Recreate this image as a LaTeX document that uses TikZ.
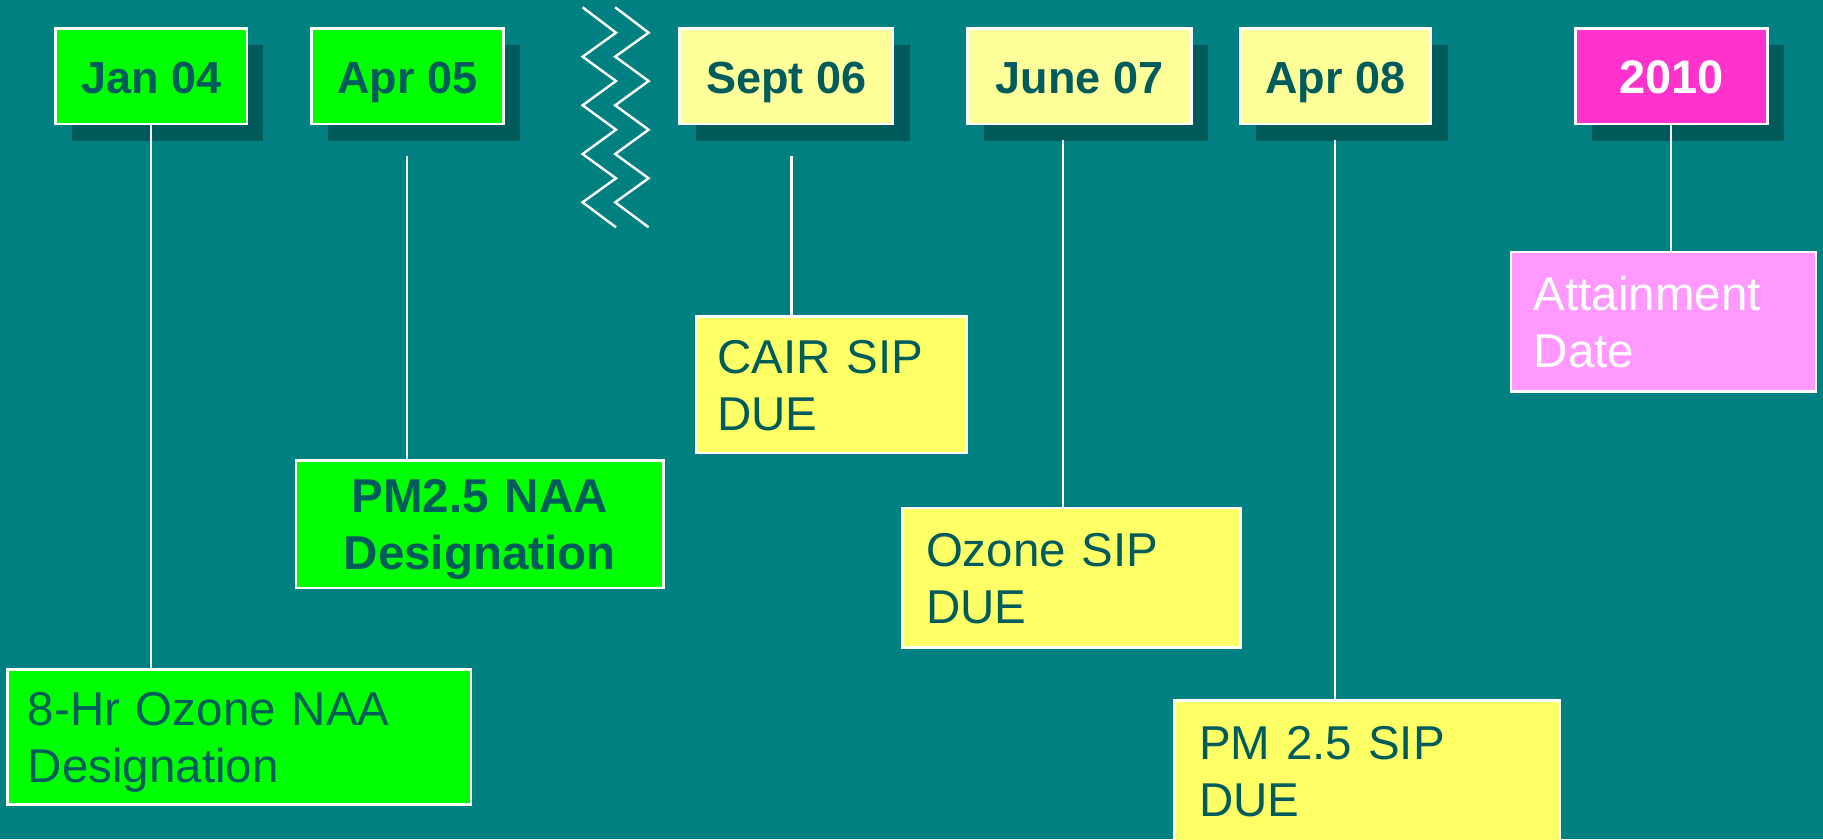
\documentclass[tikz,border=0pt]{standalone}
\usepackage{fontspec}
\setmainfont{Liberation Sans}
\usetikzlibrary{shadows}
\definecolor{bg}{HTML}{008080}
\definecolor{ink}{HTML}{005C5C}
\definecolor{shade}{HTML}{005A5A}
\definecolor{grn}{HTML}{00FF00}
\definecolor{lyel}{HTML}{FFFF99}
\definecolor{yel}{HTML}{FFFF66}
\definecolor{mag}{HTML}{FF33CC}
\definecolor{pnk}{HTML}{FF99FF}
\begin{document}
\begin{tikzpicture}[x=1pt,y=-1pt,
  box/.style={draw=white, line width=2.5pt, inner sep=0pt, text=ink},
  datebox/.style={box, minimum height=95.5pt, text height=34pt, text depth=0pt,
    font=\fontsize{45}{54}\selectfont\bfseries,
    drop shadow={shadow xshift=16.5pt, shadow yshift=-16.5pt, fill=shade, opacity=1, draw=none}},
  eventbox/.style={box, align=left, text height=34pt, text depth=57pt,
    font=\fontsize{47.5}{57}\selectfont},
  thinline/.style={draw=white!88!gray, line width=1.7pt},
  wideline/.style={draw=white, line width=2.7pt},
  zig/.style={draw=white, line width=2.4pt, line join=miter}
]
\useasboundingbox (0,0) rectangle (1823,839);
\fill[bg] (0,0) rectangle (1823,839);

% date boxes
\node[datebox, fill=grn, minimum width=191.3pt] (jan) at (151.3,76.3) {Jan 04};
\node[datebox, fill=grn, minimum width=191.7pt] (aprA) at (407.4,76.3) {Apr 05};
\node[datebox, fill=lyel, minimum width=213.6pt] (sept) at (786.35,76.3) {Sept 06};
\node[datebox, fill=lyel, minimum width=223.8pt] (june) at (1079.45,76.3) {June 07};
\node[datebox, fill=lyel, minimum width=191.4pt] (aprB) at (1335.45,76.3) {Apr 08};
\node[datebox, fill=mag, minimum width=191.7pt, text=white, font=\fontsize{47}{56}\selectfont\bfseries] (yr) at (1671.4,76.3) {2010};

% event boxes
\node[eventbox, fill=grn, minimum width=463.5pt, minimum height=135.2pt, text width=423pt] (ozna) at (239.3,736.85) {8-Hr Ozone NAA\\Designation};
\node[eventbox, fill=grn, align=center, minimum width=367.6pt, minimum height=127.5pt, text width=330pt, font=\fontsize{47.5}{57}\selectfont\bfseries] (pmna) at (479.65,524.3) {PM2.5 NAA\\Designation};
\node[eventbox, fill=yel, minimum width=270.8pt, minimum height=136.2pt, text width=228pt] (cair) at (831.35,384.65) {CAIR SIP\\DUE};
\node[eventbox, fill=yel, minimum width=337.7pt, minimum height=139.5pt, text width=291pt] (ozsip) at (1071.5,577.7) {Ozone SIP\\DUE};
\node[eventbox, fill=yel, minimum width=385.2pt, minimum height=141.2pt, text width=335.7pt] (pmsip) at (1367.15,770.85) {PM 2.5 SIP\\DUE};
\node[eventbox, fill=pnk, text=white, minimum width=304.6pt, minimum height=139.5pt, text width=259.5pt] (attain) at (1663.45,321.7) {Attainment\\Date};

% connectors
\coordinate (sA) at (406.7,155.7);
\coordinate (sS) at (791.5,156);
\coordinate (sJ) at (1063,140);
\coordinate (sB) at (1335,140);
\draw[thinline] (jan.south) -- (jan.south |- ozna.north);
\draw[thinline] (sA) -- (sA |- pmna.north);
\draw[wideline] (sS) -- (sS |- cair.north);
\draw[wideline] (sJ) -- (sJ |- ozsip.north);
\draw[wideline] (sB) -- (sB |- pmsip.north);
\draw[thinline, line width=2pt] (yr.south) -- (yr.south |- attain.north);

% break marks
\foreach \dx in {0,32.6}{
  \draw[zig, xshift=\dx pt] (582.6,7.3) -- (616,32.7) -- (582.6,56.7) -- (616,81) -- (582.6,105.3) -- (616,129.7) -- (582.6,154) -- (616,178.3) -- (582.6,202.3) -- (616,227.3);
}
\end{tikzpicture}
\end{document}
